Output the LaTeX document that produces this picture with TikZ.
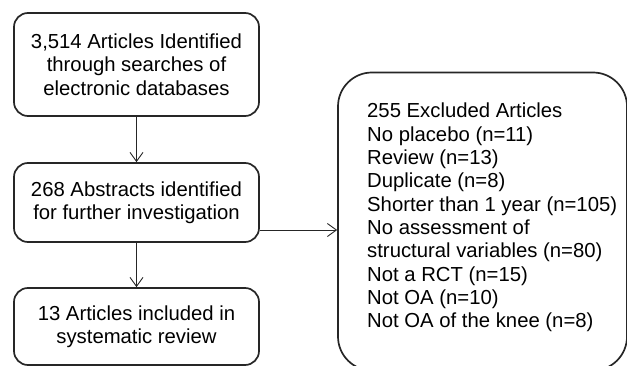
\documentclass[tikz,border=0pt]{standalone}
\usepackage{fontspec}
\setmainfont{Liberation Sans}
\usetikzlibrary{arrows.meta,positioning}
\tikzset
{
    stepbox/.style = {rectangle, rounded corners=14pt, draw=black!85, line width=1.7pt, align=center, minimum width=245pt, inner sep=0pt, font=\fontsize{20.3}{23.3}\selectfont},
    bigbox/.style  = {rectangle, rounded corners=34pt, draw=black!85, line width=1.7pt, minimum width=289pt, minimum height=298pt},
    listtext/.style = {align=left, inner sep=0pt, font=\fontsize{20.3}{23.3}\selectfont},
    arr/.style = {draw=black!85, line width=0.9pt, -{Straight Barb[length=9pt,width=13pt,line width=0.9pt]}}
}

\begin{document}
\begin{tikzpicture}[x=1pt,y=1pt]
\useasboundingbox (0,0) rectangle (627,365);
\clip (0,0) rectangle (627,365);
\node[stepbox, minimum height=103pt] (identified) at (136.5,300.5) {3,514 Articles Identified\\through searches of\\electronic databases};
\node[stepbox, minimum height=79pt] (abstracts) at (136.5,162.5) {268 Abstracts identified\\for further investigation};
\node[stepbox, minimum height=77pt] (included) at (136.5,38.5) {13 Articles included in\\systematic review};
\node[bigbox] (excluded) at (482.5,143.5) {};
\node[listtext, anchor=west] (reasons) at (367,147.5) {255 Excluded Articles\\No placebo (n=11)\\Review (n=13)\\Duplicate (n=8)\\Shorter than 1 year (n=105)\\No assessment of\\structural variables (n=80)\\Not a RCT (n=15)\\Not OA (n=10)\\Not OA of the knee (n=8)};
\draw[arr] (identified) -- (abstracts);
\draw[arr] (abstracts) -- (included);
\draw[arr] ([yshift=-27.5pt]abstracts.east) -- ([yshift=-27.5pt]abstracts.east -| excluded.west);
\end{tikzpicture}
\end{document}
